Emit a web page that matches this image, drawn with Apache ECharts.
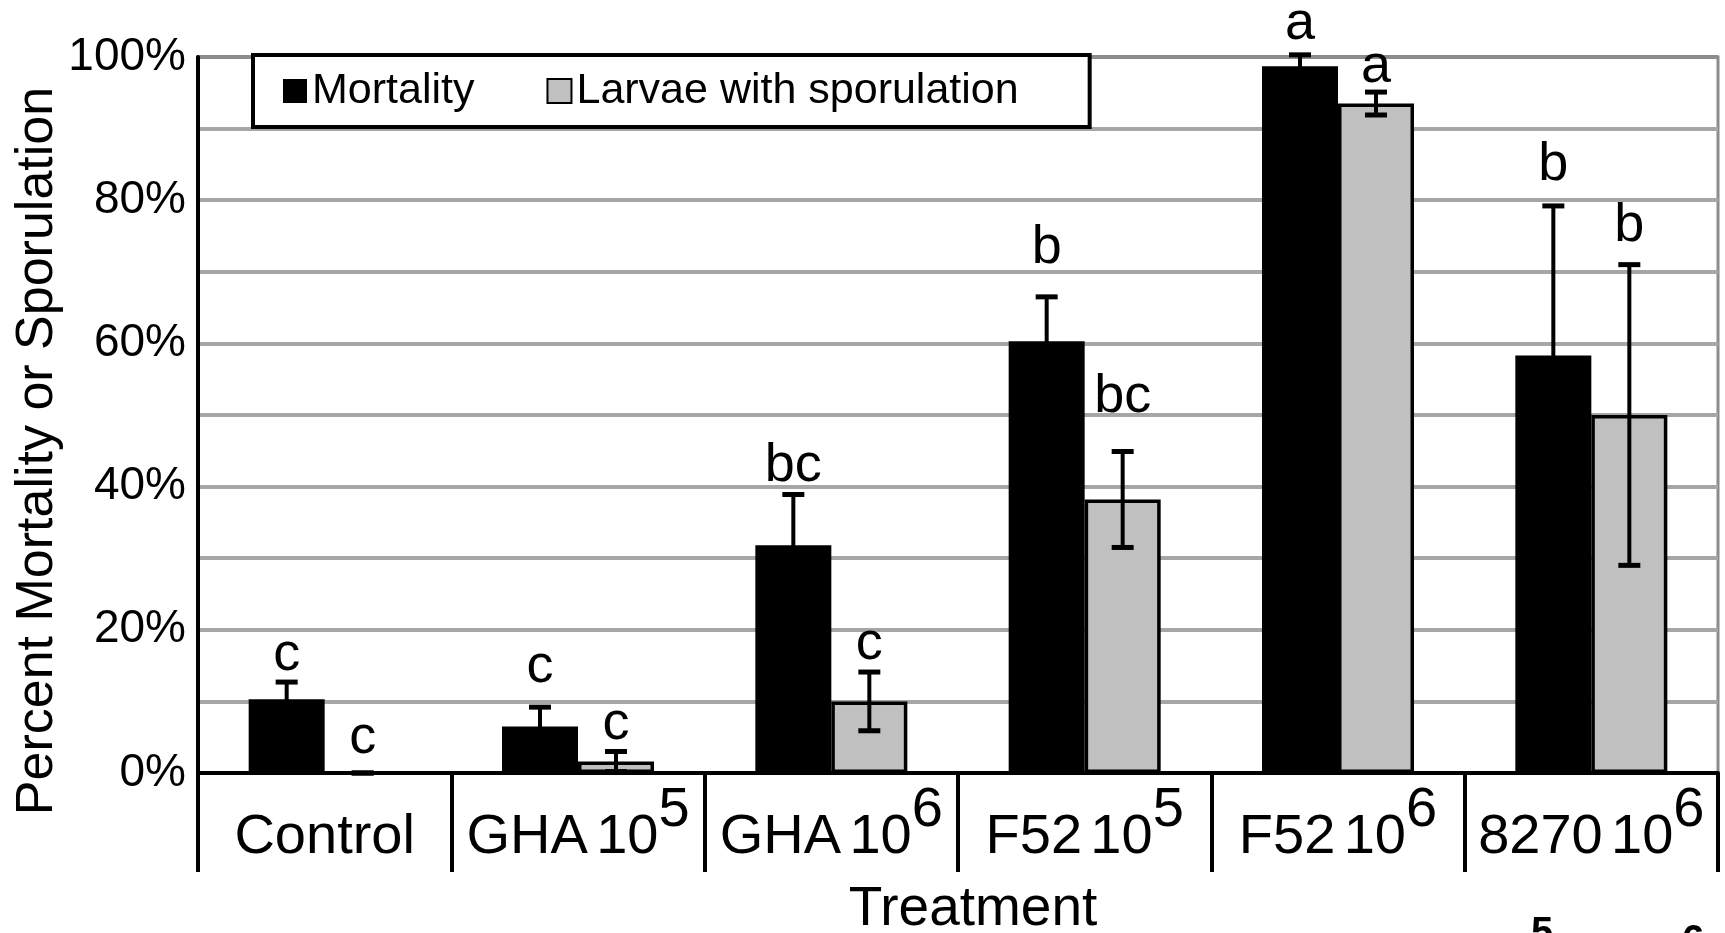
<!DOCTYPE html>
<html>
<head>
<meta charset="utf-8">
<script src="https://cdn.jsdelivr.net/npm/echarts@6/dist/echarts.min.js"></script>
<style>
  html, body { margin: 0; padding: 0; background: #fff; }
  #chart { width: 1725px; height: 933px; }
</style>
</head>
<body>
<div id="chart"></div>
<script>
// ---- data ----
const categories = ['Control', 'GHA 10^5', 'GHA 10^6', 'F52 10^5', 'F52 10^6', '8270 10^6'];
const mortality = [10.3, 6.5, 31.8, 60.3, 98.7, 58.3];
const mortalityErr = [2.4, 2.7, 7.1, 6.2, 1.6, 20.9];
const sporulation = [0, 1.6, 10, 38.2, 93.5, 50];
const sporulationErr = [0, 1.4, 4.1, 6.7, 1.6, 21];
const mortalityLetters = ['c', 'c', 'bc', 'b', 'a', 'b'];
const sporulationLetters = ['c', 'c', 'c', 'bc', 'a', 'b'];
const mortalityLetterY = [14.3, 12.5, 40.6, 71.1, 102.4, 82.6];
const sporulationLetterY = [2.6, 4.6, 15.7, 50.2, 96.3, 74.2];
const yTickLabels = [0, 20, 40, 60, 80, 100];
const seriesNames = ['Mortality', 'Larvae with sporulation'];

const FONT = '"Liberation Sans", Arial, Helvetica, sans-serif';

const errData = [];
categories.forEach((c, i) => {
  errData.push([i, mortality[i], mortalityErr[i], 0, mortalityLetterY[i]]);
  errData.push([i, sporulation[i], sporulationErr[i], 1, sporulationLetterY[i]]);
});

function renderErr(params, api) {
  const i = api.value(0), v = api.value(1), e = api.value(2), k = api.value(3), ly = api.value(4);
  const band = api.size([1, 0])[0];
  const cx = api.coord([i, v])[0] + (k === 0 ? -0.15 : 0.15) * band;
  const yHi = api.coord([i, v + e])[1];
  const yLo = api.coord([i, v - e])[1];
  const yLab = api.coord([i, ly])[1];
  const letter = k === 0 ? mortalityLetters[i] : sporulationLetters[i];
  const capW = 11;
  const stroke = { stroke: '#000', lineWidth: 4 };
  const capStroke = { stroke: '#000', lineWidth: 5 };
  return {
    type: 'group',
    children: [
      { type: 'line', shape: { x1: cx, y1: yHi, x2: cx, y2: yLo }, style: stroke },
      { type: 'line', shape: { x1: cx - capW, y1: yHi, x2: cx + capW, y2: yHi }, style: capStroke },
      { type: 'line', shape: { x1: cx - capW, y1: yLo, x2: cx + capW, y2: yLo }, style: capStroke },
      { type: 'text', x: cx, y: yLab + 11,
        style: { text: letter, fontSize: 54, fontFamily: FONT, fill: '#000', align: 'center', verticalAlign: 'bottom' } }
    ]
  };
}

const gridColors = [];
for (let t = 0; t <= 100; t += 10) gridColors.push(t === 100 ? '#8c8c8c' : '#a6a6a6');

const chart = echarts.init(document.getElementById('chart'), null, { renderer: 'canvas' });
chart.setOption({
  backgroundColor: '#fff',
  animation: false,
  textStyle: { fontFamily: FONT },
  grid: {
    left: 198, right: 7, top: 57, bottom: 160,
    show: true, borderColor: '#8c8c8c', borderWidth: 3, backgroundColor: 'transparent'
  },
  legend: {
    left: 253, top: 55,
    data: seriesNames,
    icon: 'rect',
    itemWidth: 24, itemHeight: 24, itemGap: 72,
    padding: [12, 71, 12, 30],
    borderColor: '#000', borderWidth: 4,
    backgroundColor: '#fff',
    textStyle: { fontSize: 43, color: '#000', fontFamily: FONT, lineHeight: 48 }
  },
  xAxis: {
    type: 'category',
    data: categories,
    boundaryGap: true,
    axisLine: { show: true, lineStyle: { color: '#000', width: 4 } },
    axisTick: { show: true, length: 99, interval: 0, lineStyle: { color: '#000', width: 4 } },
    axisLabel: {
      interval: 0, margin: 10, color: '#000',
      formatter: function (v) {
        const parts = v.split('^');
        const main = parts[0];
        if (parts.length < 2) return '{b|' + main + '}';
        const words = main.split(' ');
        return '{b|' + words[0] + '}{sp| }{b|' + words[1] + '}{s|' + parts[1] + '}';
      },
      rich: {
        b: { fontSize: 56, fontFamily: FONT, color: '#000', lineHeight: 60, verticalAlign: 'top', padding: [27, 0, 0, 0] },
        sp: { fontSize: 30, fontFamily: FONT, color: '#000', lineHeight: 60, verticalAlign: 'top', padding: [27, 0, 0, 0] },
        s: { fontSize: 56, fontFamily: FONT, color: '#000', lineHeight: 60, verticalAlign: 'top', padding: [0, 0, 0, 0] }
      }
    },
    splitLine: { show: false }
  },
  yAxis: {
    type: 'value',
    min: 0, max: 100, interval: 10,
    axisLine: { show: true, lineStyle: { color: '#000', width: 4 } },
    axisTick: { show: false },
    axisLabel: {
      margin: 12, fontSize: 46, color: '#000', fontFamily: FONT,
      formatter: function (v) { return yTickLabels.indexOf(v) >= 0 ? v + '%' : ''; }
    },
    splitLine: { show: true, lineStyle: { color: gridColors, width: 4 } }
  },
  series: [
    {
      name: seriesNames[0], type: 'bar', data: mortality,
      barWidth: '30%', barGap: '0%',
      itemStyle: { color: '#000', borderColor: '#000', borderWidth: 0 },
      z: 2
    },
    {
      name: seriesNames[1], type: 'bar', data: sporulation,
      barWidth: '30%', barGap: '0%',
      itemStyle: { color: '#c0c0c0', borderColor: '#000', borderWidth: 3.5 },
      z: 2
    },
    {
      type: 'custom', renderItem: renderErr, data: errData,
      encode: { x: 0, y: 1 }, z: 5, clip: false, silent: true
    }
  ],
  graphic: [
    { type: 'text', x: 38, y: 451, rotation: Math.PI / 2,
      style: { text: 'Percent Mortality or Sporulation', fontSize: 52, fontFamily: FONT, fill: '#000', align: 'center', verticalAlign: 'middle' } },
    { type: 'text', x: 973, y: 910,
      style: { text: 'Treatment', fontSize: 55, fontFamily: FONT, fill: '#000', align: 'center', verticalAlign: 'middle' } },
    { type: 'text', x: 1542, y: 914,
      style: { text: '5', fontSize: 40, fontWeight: 'bold', fontFamily: FONT, fill: '#000', align: 'center', verticalAlign: 'top' } },
    { type: 'text', x: 1693, y: 922,
      style: { text: '6', fontSize: 40, fontWeight: 'bold', fontFamily: FONT, fill: '#000', align: 'center', verticalAlign: 'top' } }
  ]
});
</script>
</body>
</html>
